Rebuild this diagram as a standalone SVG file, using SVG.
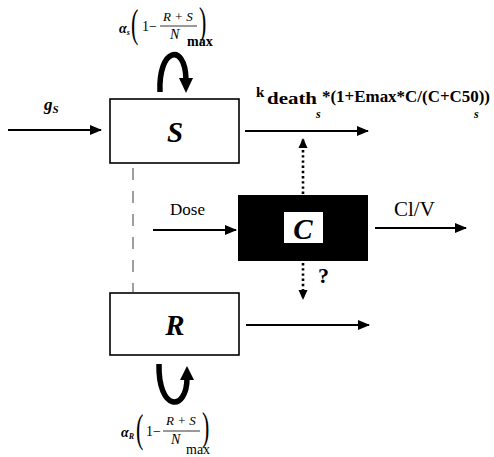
<svg xmlns="http://www.w3.org/2000/svg" width="494" height="457" viewBox="0 0 494 457">
<style>
.box{fill:#fff;stroke:#000;stroke-width:1.6}
.ln{stroke:#000;stroke-width:2;fill:none}
.dot{stroke:#000;stroke-width:2.6;fill:none;stroke-dasharray:2.4 2.8}
.dash{stroke:#888;stroke-width:1.6;fill:none;stroke-dasharray:12 11}
.curve{stroke:#000;stroke-width:5.5;fill:none}
.ser{font-family:"Liberation Serif","DejaVu Serif",serif;fill:#000}
.big{font-family:"Liberation Serif","DejaVu Serif",serif;font-weight:bold;font-style:italic;font-size:29px;text-anchor:middle}
</style>
<defs>
<marker id="ah" markerWidth="12" markerHeight="10" refX="11" refY="5" orient="auto" markerUnits="userSpaceOnUse">
<path d="M0,0 L12,5 L0,10 Z" fill="#000"/>
</marker>
<marker id="ahs" markerWidth="10" markerHeight="10" refX="9" refY="5" orient="auto" markerUnits="userSpaceOnUse">
<path d="M0,0.5 L10,5 L0,9.5 Z" fill="#000"/>
</marker>
</defs>

<g id="connectors">
<line class="ln" x1="8" y1="130" x2="101" y2="130" marker-end="url(#ah)"/>
<line class="ln" x1="245" y1="131" x2="368" y2="131" marker-end="url(#ah)"/>
<line class="ln" x1="153" y1="230" x2="236" y2="230" marker-end="url(#ah)"/>
<line class="ln" x1="375" y1="228" x2="466" y2="228" marker-end="url(#ah)"/>
<line class="ln" x1="246" y1="325" x2="369" y2="325" marker-end="url(#ah)"/>
<line class="dot" x1="303" y1="194" x2="303" y2="139" marker-end="url(#ahs)"/>
<line class="dot" x1="303" y1="263" x2="303" y2="299" marker-end="url(#ahs)"/>
<line class="dash" x1="133" y1="168" x2="133" y2="292"/>
<path class="curve" d="M160,92 C158,48 185,42 186,79"/>
<path d="M179,78 L193,78 L186,93 Z" fill="#000"/>
<path class="curve" d="M159,364 C158,412 187,412 187,378"/>
<path d="M180,380 L194,380 L187,366 Z" fill="#000"/>
</g>

<g id="node-S">
<rect class="box" x="110" y="99" width="129" height="64"/>
<text class="big" x="175" y="142">S</text>
</g>

<g id="node-C">
<rect x="238" y="195" width="130" height="66" fill="#000"/>
<rect x="284" y="212" width="39" height="31" fill="#fff"/>
<text class="big" x="303" y="239">C</text>
</g>

<g id="node-R">
<rect class="box" x="110" y="293" width="129" height="62"/>
<text class="big" x="175" y="335">R</text>
</g>

<g id="labels">
<text class="ser" x="44" y="110" font-size="17" font-weight="bold" font-style="italic">g<tspan font-size="11" dy="3">S</tspan></text>

<text class="ser" x="256" y="97" font-size="15" font-weight="bold">k</text>
<text class="ser" x="267" y="104" font-size="17" font-weight="bold" textLength="50" lengthAdjust="spacingAndGlyphs">death</text>
<text class="ser" x="316" y="118" font-size="12" font-weight="bold" font-style="italic">s</text>
<text class="ser" x="322" y="102" font-size="17" font-weight="bold" textLength="168" lengthAdjust="spacingAndGlyphs">*(1+Emax*C/(C+C50))</text>
<text class="ser" x="474" y="118" font-size="12" font-weight="bold" font-style="italic">s</text>

<text class="ser" x="170" y="215" font-size="17">Dose</text>
<text class="ser" x="394" y="216" font-size="21">Cl/V</text>
<text class="ser" x="318" y="283" font-size="22" font-weight="bold" font-family="Liberation Sans, sans-serif">?</text>

<g id="formula-top">
<text class="ser" x="119" y="33" font-size="14" font-weight="bold" font-style="italic">α<tspan font-size="8" dy="2">s</tspan></text>
<text class="ser" x="131" y="37" font-size="40" transform="translate(131,37) scale(0.55,1) translate(-131,-37)">(</text>
<text class="ser" x="142" y="31" font-size="14">1−</text>
<text class="ser" x="163" y="21" font-size="13" font-style="italic">R + S</text>
<line x1="160" y1="26" x2="197" y2="26" stroke="#000" stroke-width="0.8"/>
<text class="ser" x="170" y="39" font-size="14" font-style="italic">N</text>
<text class="ser" x="187" y="46" font-size="14" font-weight="bold">max</text>
<text class="ser" x="199" y="35" font-size="40" transform="translate(199,35) scale(0.55,1) translate(-199,-35)">)</text>
</g>

<g id="formula-bottom">
<text class="ser" x="121" y="437" font-size="14" font-weight="bold" font-style="italic">α<tspan font-size="8" dy="2">R</tspan></text>
<text class="ser" x="136" y="442" font-size="40" transform="translate(136,442) scale(0.55,1) translate(-136,-442)">(</text>
<text class="ser" x="146" y="436" font-size="14">1−</text>
<text class="ser" x="166" y="425" font-size="13" font-style="italic">R + S</text>
<line x1="163" y1="431" x2="200" y2="431" stroke="#000" stroke-width="0.8"/>
<text class="ser" x="171" y="444" font-size="14" font-style="italic">N</text>
<text class="ser" x="186" y="454" font-size="14">max</text>
<text class="ser" x="202" y="440" font-size="40" transform="translate(202,440) scale(0.55,1) translate(-202,-440)">)</text>
</g>
</g>
</svg>
